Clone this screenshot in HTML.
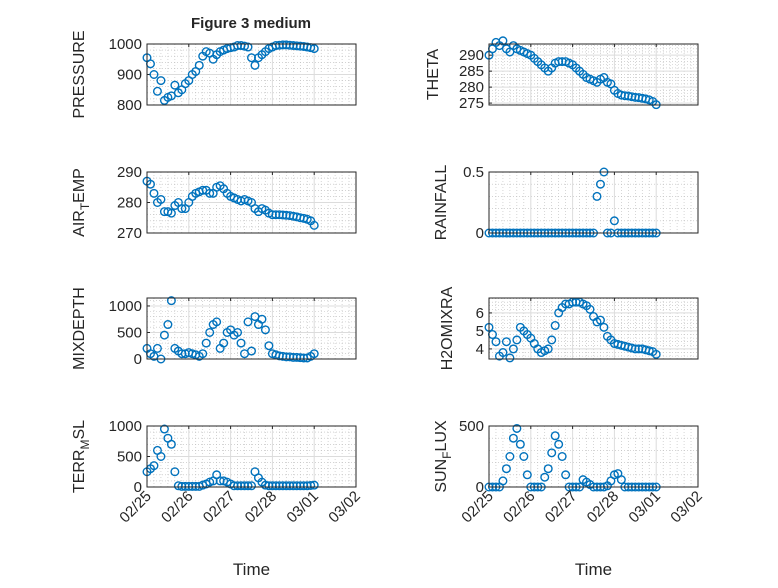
<!DOCTYPE html>
<html><head><meta charset="utf-8"><style>
body{margin:0;background:#fff}
svg text{font-family:"Liberation Sans",sans-serif;fill:#262626}
</style></head><body>
<svg id="fig" width="778" height="583" xmlns="http://www.w3.org/2000/svg">
<text x="251" y="28" font-size="15" font-weight="bold" text-anchor="middle" fill="#000">Figure 3 medium</text>
</svg>
<script>
const hours=[0,2,4,6,8,10,12,14,16,18,20,22,24,26,28,30,32,34,36,38,40,42,44,46,48,50,52,54,56,58,60,62,64,66,68,70,72,74,76,78,80,82,84,86,88,90,92,94,96];
const xTickLabels=["02/25","02/26","02/27","02/28","03/01","03/02"];
const pressure=[955,935,900,845,880,815,825,830,865,840,850,870,880,900,910,930,960,975,970,950,965,975,980,985,988,990,995,995,993,990,955,930,955,965,975,985,990,995,996,997,997,996,995,994,993,992,990,988,985];
const theta=[290,292,294,293,294.5,292,291,293,292,291.5,291,290.5,290,289,288,287,286,285,286,287.5,288,288,288,287.5,287,286,285,284,283,282.5,282,281.5,282.5,283,281.5,281,279,278,277.5,277.3,277.2,277,276.8,276.7,276.5,276.3,276,275.5,274.5];
const airTemp=[287,286,283,280,281,277,277,276.5,279,280,278,278,280,282,283,283.5,284,284,283,283,285,285.5,284.5,283,282,281.5,281,280.5,281,280.5,280,278,277,278,277.5,276.5,276,276,276,275.9,275.8,275.7,275.5,275.3,275,274.8,274.5,274,272.5];
const rainfall=[0,0,0,0,0,0,0,0,0,0,0,0,0,0,0,0,0,0,0,0,0,0,0,0,0,0,0,0,0,0,0,0.3,0.4,0.5,0,0,0.1,0,0,0,0,0,0,0,0,0,0,0,0];
const mixDepth=[200,100,50,200,0,450,650,1100,200,150,100,100,120,100,80,50,100,300,500,650,700,200,300,500,550,450,500,300,100,700,150,800,650,750,550,250,100,80,60,50,40,40,30,30,25,20,20,50,100];
const terrMsl=[250,300,350,600,500,950,800,700,250,20,10,10,10,10,10,10,30,50,80,100,200,100,100,80,50,20,20,20,20,20,20,250,150,80,30,20,20,20,20,20,20,20,20,20,20,20,20,25,30];
const h2o=[5.2,4.8,4.4,3.6,3.8,4.4,3.5,4.0,4.5,5.2,5.0,4.8,4.6,4.3,4.0,3.8,3.9,4.0,4.5,5.3,6.0,6.3,6.5,6.5,6.6,6.6,6.6,6.5,6.4,6.2,5.8,5.5,5.6,5.2,4.7,4.5,4.3,4.25,4.2,4.15,4.1,4.05,4.0,4.0,4.0,3.95,3.9,3.85,3.7];
const sunFlux=[0,0,0,0,50,150,250,400,480,350,250,100,0,0,0,0,80,150,280,420,350,250,100,0,0,0,0,60,40,20,0,0,0,0,10,50,100,110,60,0,0,0,0,0,0,0,0,0,0];

const NS="http://www.w3.org/2000/svg";
const svg=document.getElementById('fig');
function mk(tag,attrs,parent){const e=document.createElementNS(NS,tag);for(const k in attrs)e.setAttribute(k,attrs[k]);(parent||svg).appendChild(e);return e;}
const panels=[
 {data:pressure,x:147,y:44,min:800,max:1000,ticks:[800,900,1000],minor:20,label:["PRESSURE"],name:"pressure",lx:84},
 {data:theta,x:489,y:44,min:274.4,max:293.5,ticks:[275,280,285,290],minor:1,label:["THETA"],name:"theta",lx:438},
 {data:airTemp,x:147,y:172,min:270,max:290,ticks:[270,280,290],minor:2,label:["AIR","T","EMP"],name:"air-temp",lx:84},
 {data:rainfall,x:489,y:172,min:0,max:0.5,ticks:[0,0.5],minor:0.1,label:["RAINFALL"],name:"rainfall",lx:446},
 {data:mixDepth,x:147,y:298,min:0,max:1150,ticks:[0,500,1000],minor:100,label:["MIXDEPTH"],name:"mixdepth",lx:84},
 {data:h2o,x:489,y:298,min:3.44,max:6.83,ticks:[4,5,6],minor:0.2,label:["H2OMIXRA"],name:"h2omixra",lx:452},
 {data:terrMsl,x:147,y:426,min:0,max:1000,ticks:[0,500,1000],minor:100,label:["TERR","M","SL"],name:"terr-msl",lx:84},
 {data:sunFlux,x:489,y:426,min:0,max:500,ticks:[0,500],minor:100,label:["SUN","F","LUX"],name:"sun-flux",lx:446}
];
const W=209,H=61,DAYS=5;
panels.forEach((p,pi)=>{
 const g=mk('g',{});
 
 
 const sx=h=>p.x+h/(24*DAYS)*W;
 const sy=v=>p.y+H-(v-p.min)/(p.max-p.min)*H;
 for(let h=4;h<24*DAYS;h+=4){ if(h%24===0)continue; mk('line',{x1:sx(h),x2:sx(h),y1:p.y,y2:p.y+H,stroke:'#bbb','stroke-width':0.6,'stroke-dasharray':'1,2'},g);}
 const start=Math.ceil(p.min/p.minor)*p.minor;
 for(let v=start;v<=p.max+1e-9;v+=p.minor){ mk('line',{x1:p.x,x2:p.x+W,y1:sy(v),y2:sy(v),stroke:'#bbb','stroke-width':0.6,'stroke-dasharray':'1,2'},g);}
 for(let d=1;d<DAYS;d++) mk('line',{x1:sx(d*24),x2:sx(d*24),y1:p.y,y2:p.y+H,stroke:'#dcdcdc','stroke-width':1},g);
 p.ticks.forEach(v=>{mk('line',{x1:p.x,x2:p.x+W,y1:sy(v),y2:sy(v),stroke:'#dcdcdc','stroke-width':1},g);
   const t=mk('text',{x:p.x-5,y:sy(v)+5,'font-size':15,'text-anchor':'end'},g);t.textContent=v;
   
   
   mk('line',{x1:p.x,x2:p.x+3,y1:sy(v),y2:sy(v),stroke:'#262626'},g);});
 for(let d=0;d<=DAYS;d++) mk('line',{x1:sx(d*24),x2:sx(d*24),y1:p.y,y2:p.y+3,stroke:'#262626'},g);
 p.data.forEach((v,i)=>{const c=mk('circle',{cx:sx(hours[i]),cy:sy(v),r:3.8,fill:'none',stroke:'#0072BD','stroke-width':1.4},g);
   
   });
 const b=mk('rect',{x:p.x,y:p.y,width:W,height:H,fill:'none',stroke:'#262626','stroke-width':1},g);
 
 
 const cy=p.y+H/2;
 const t=mk('text',{x:0,y:0,'font-size':16,'text-anchor':'middle',transform:`translate(${p.lx},${cy}) rotate(-90)`},g);
 
 
 if(p.label.length===1){t.textContent=p.label[0];}
 else{const a=mk('tspan',{},t);a.textContent=p.label[0];const s=mk('tspan',{dy:5,'font-size':12},t);s.textContent=p.label[1];const c=mk('tspan',{dy:-5},t);c.textContent=p.label[2];}
 if(pi>=6){
  xTickLabels.forEach((lab,d)=>{const tx=sx(d*24);const tt=mk('text',{x:0,y:0,'font-size':15,'text-anchor':'end',transform:`translate(${tx+5},${p.y+H+10}) rotate(-45)`},g);tt.textContent=lab;
   
   });
  const xt=mk('text',{x:p.x+W/2,y:575,'font-size':17,'text-anchor':'middle'},g);xt.textContent='Time';
  
  
 }
});
</script>
</body></html>
